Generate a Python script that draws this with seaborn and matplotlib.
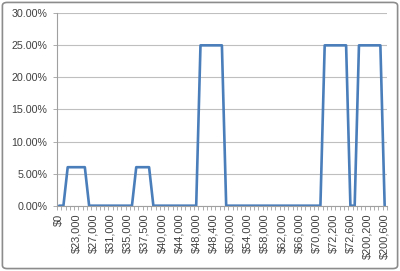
import matplotlib
matplotlib.use("Agg")
import matplotlib.pyplot as plt
import seaborn as sns
import numpy as np
from matplotlib.patches import FancyBboxPatch
from matplotlib.ticker import FuncFormatter, FixedLocator

# Income categories (every 4th is labelled in the chart; the rest are estimates)
categories = [
    "$0", "$20,000", "$21,000", "$22,000",
    "$23,000", "$24,000", "$25,000", "$26,000",
    "$27,000", "$28,000", "$29,000", "$30,000",
    "$31,000", "$32,000", "$33,000", "$34,000",
    "$35,000", "$35,500", "$36,000", "$37,000",
    "$37,500", "$38,000", "$38,500", "$39,000",
    "$40,000", "$41,000", "$42,000", "$43,000",
    "$44,000", "$45,000", "$46,000", "$47,000",
    "$48,000", "$48,100", "$48,200", "$48,300",
    "$48,400", "$48,800", "$49,200", "$49,600",
    "$50,000", "$51,000", "$52,000", "$53,000",
    "$54,000", "$55,000", "$56,000", "$57,000",
    "$58,000", "$59,000", "$60,000", "$61,000",
    "$62,000", "$63,000", "$64,000", "$65,000",
    "$66,000", "$67,000", "$68,000", "$69,000",
    "$70,000", "$70,500", "$71,000", "$71,500",
    "$72,200", "$72,300", "$72,400", "$72,500",
    "$72,600", "$72,700", "$200,000", "$200,100",
    "$200,200", "$200,300", "$200,400", "$200,500",
    "$200,600",
]

rates = [
    0.00, 0.00, 0.06, 0.06, 0.06, 0.06, 0.06, 0.00,
    0.00, 0.00, 0.00, 0.00, 0.00, 0.00, 0.00, 0.00,
    0.00, 0.00, 0.06, 0.06, 0.06, 0.06, 0.00, 0.00,
    0.00, 0.00, 0.00, 0.00, 0.00, 0.00, 0.00, 0.00,
    0.00, 0.25, 0.25, 0.25, 0.25, 0.25, 0.25, 0.00,
    0.00, 0.00, 0.00, 0.00, 0.00, 0.00, 0.00, 0.00,
    0.00, 0.00, 0.00, 0.00, 0.00, 0.00, 0.00, 0.00,
    0.00, 0.00, 0.00, 0.00, 0.00, 0.00, 0.25, 0.25,
    0.25, 0.25, 0.25, 0.25, 0.00, 0.00, 0.25, 0.25,
    0.25, 0.25, 0.25, 0.25, 0.00,
]

y_ticks = [0.00, 0.05, 0.10, 0.15, 0.20, 0.25, 0.30]
label_step = 4

sns.set_theme(style="white")
plt.rcParams["font.family"] = ["Liberation Sans", "DejaVu Sans"]

fig = plt.figure(figsize=(4.0, 2.71), dpi=100)
ax = fig.add_axes([0.1425, 0.241, 0.8245, 0.710])

idx = np.arange(len(categories))
sns.lineplot(x=idx, y=rates, ax=ax, color="#4a7ebb", linewidth=1.9, sort=False)

ax.set_xlim(-0.5, len(categories) - 0.5)
ax.set_ylim(0, 0.30)
ax.set_yticks(y_ticks)
ax.yaxis.set_major_formatter(FuncFormatter(lambda v, p: f"{v*100:.2f}%"))
ax.grid(axis="y", color="#bfbfbf", linewidth=0.8)
ax.set_axisbelow(True)

# major x ticks: labels every 4th category, no tick line
major = idx[::label_step]
ax.set_xticks(major)
ax.set_xticklabels([categories[i] for i in major], rotation=90)
ax.xaxis.set_minor_locator(FixedLocator(np.arange(len(categories) + 1) - 0.5))
ax.tick_params(axis="x", which="major", length=0, pad=5.5, labelsize=7.9, colors="#404040")
ax.tick_params(axis="x", which="minor", length=3, width=0.6, color="#a0a0a0", direction="out", bottom=True)
ax.tick_params(axis="y", which="major", length=3, width=0.6, color="#a0a0a0", direction="out",
               left=True, labelsize=7.7, labelcolor="#404040", pad=4)

for s in ["top", "right"]:
    ax.spines[s].set_visible(False)
for s in ["left", "bottom"]:
    ax.spines[s].set_color("#a0a0a0")
    ax.spines[s].set_linewidth(0.8)
ax.set_xlabel("")
ax.set_ylabel("")

border = FancyBboxPatch((0.006, 0.009), 0.988, 0.982, boxstyle="round,pad=0,rounding_size=0.012",
                        transform=fig.transFigure, facecolor="none", edgecolor="#8c8c8c",
                        linewidth=1.2)
fig.patches.append(border)

fig.savefig("out.png", dpi=100)
